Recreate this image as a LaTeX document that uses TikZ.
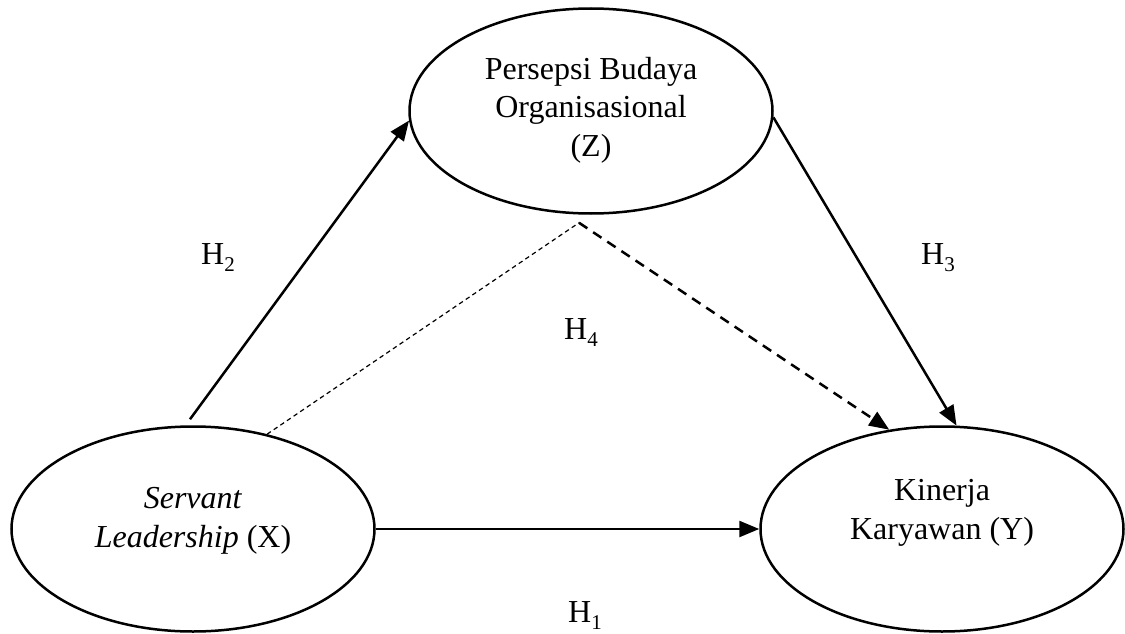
\documentclass[tikz,border=0pt]{standalone}
\usepackage{fontspec}
\setmainfont{Liberation Serif}
\usetikzlibrary{shapes.geometric, arrows.meta, positioning}

\newcommand{\hyplabel}[1]{H\raisebox{-7pt}{\fontsize{21}{21}\selectfont #1}}

\begin{document}
\begin{tikzpicture}[x=1pt, y=-1pt,
  var/.style={ellipse, draw, line width=2.5pt, minimum width=363pt, minimum height=205pt, inner sep=0pt},
  txt/.style={align=center, inner sep=0pt, font=\fontsize{32}{38.5}\selectfont},
  hyp/.style={inner sep=0pt, font=\fontsize{32}{38.5}\selectfont},
  link/.style={line width=2.5pt, -{Triangle[length=20pt, width=16pt]}},
  medlink/.style={link, dash pattern=on 10pt off 7pt},
  indlink/.style={line width=1.2pt, dash pattern=on 4.5pt off 3.5pt}]

\useasboundingbox (0,0) rectangle (1125,634);

\node[var] (Z) at (591,111) {};
\node[txt] (Z-t) at (591,110) {Persepsi Budaya\\Organisasional\\(Z)};

\node[var] (X) at (193,529) {};
\node[txt] (X-t) at (193,521) {\textit{Servant}\\\textit{Leadership} (X)};

\node[var] (Y) at (942,529) {};
\node[txt] (Y-t) at (942,513) {Kinerja\\Karyawan (Y)};

\coordinate[below left=8pt and 12pt of Z.south] (zm); % meeting point of H4

\draw[link] (X) -- (Y);
\draw[link] ([xshift=-3pt, yshift=6pt]X.north) -- (Z.183);
\draw[link] (Z.-2) -- (Y.82);
\draw[indlink] (X.52) -- (zm);
\draw[medlink] (zm) -- (Y.118);

\node[hyp] (h1) at (585,616) {\hyplabel{1}};
\node[hyp] (h2) at (218,258) {\hyplabel{2}};
\node[hyp] (h3) at (938,258) {\hyplabel{3}};
\node[hyp] (h4) at (581,333) {\hyplabel{4}};

\end{tikzpicture}
\end{document}
